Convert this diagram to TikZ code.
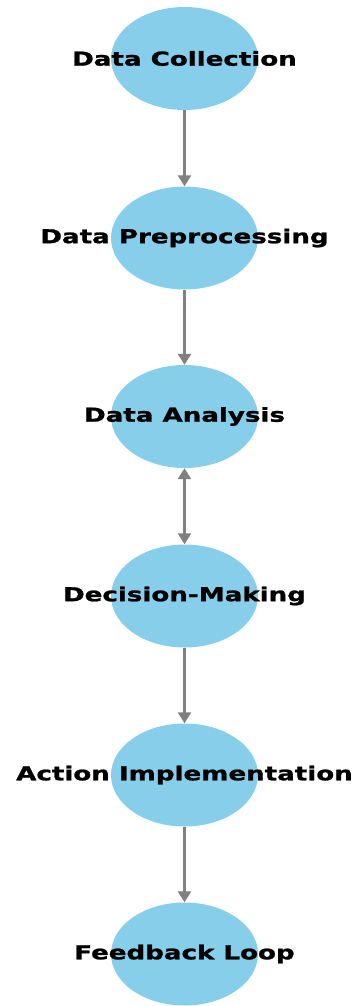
\documentclass[tikz,border=0pt]{standalone}
\usepackage{fontspec}
\usetikzlibrary{shapes.geometric,arrows.meta}
\newfontfamily\labelfont{DejaVu Sans}[FakeStretch=1.36,FakeBold=1.2]
\definecolor{bubblefill}{HTML}{87CEEB}
\definecolor{linkgray}{HTML}{808080}
\tikzset{
  bubble/.style={ellipse, fill=bubblefill, draw=none, minimum width=147pt, minimum height=103pt, inner sep=0pt},
  lbl/.style={font=\labelfont\bfseries\fontsize{19.2pt}{21pt}\selectfont, text=black, inner sep=0pt},
  link/.style={draw=linkgray, line width=2.5pt, -{Triangle[width=13pt,length=11pt]}},
  biglink/.style={draw=linkgray, line width=2.5pt, {Triangle[width=13pt,length=11pt]}-{Triangle[width=13pt,length=11pt]}}
}
\begin{document}
\begin{tikzpicture}[x=1pt,y=-1pt]
\useasboundingbox (0,0) rectangle (354,1006);
\node[bubble] (n1) at (184.5,58.5) {};
\node[bubble] (n2) at (184.5,238) {};
\node[bubble] (n3) at (184.5,416.5) {};
\node[bubble] (n4) at (184.5,596) {};
\node[bubble] (n5) at (184.5,775) {};
\node[bubble] (n6) at (184.5,954) {};
\node[lbl] (t1) at (n1) {Data Collection};
\node[lbl] (t2) at (n2) {Data Preprocessing};
\node[lbl] (t3) at (n3) {Data Analysis};
\node[lbl] (t4) at (n4) {Decision-Making};
\node[lbl] (t5) at (n5) {Action Implementation};
\node[lbl] (t6) at (n6) {Feedback Loop};
\draw[link] (n1) -- (n2);
\draw[link] (n2) -- (n3);
\draw[biglink] (n3) -- (n4);
\draw[link] (n4) -- (n5);
\draw[link] (n5) -- (n6);
\end{tikzpicture}
\end{document}
